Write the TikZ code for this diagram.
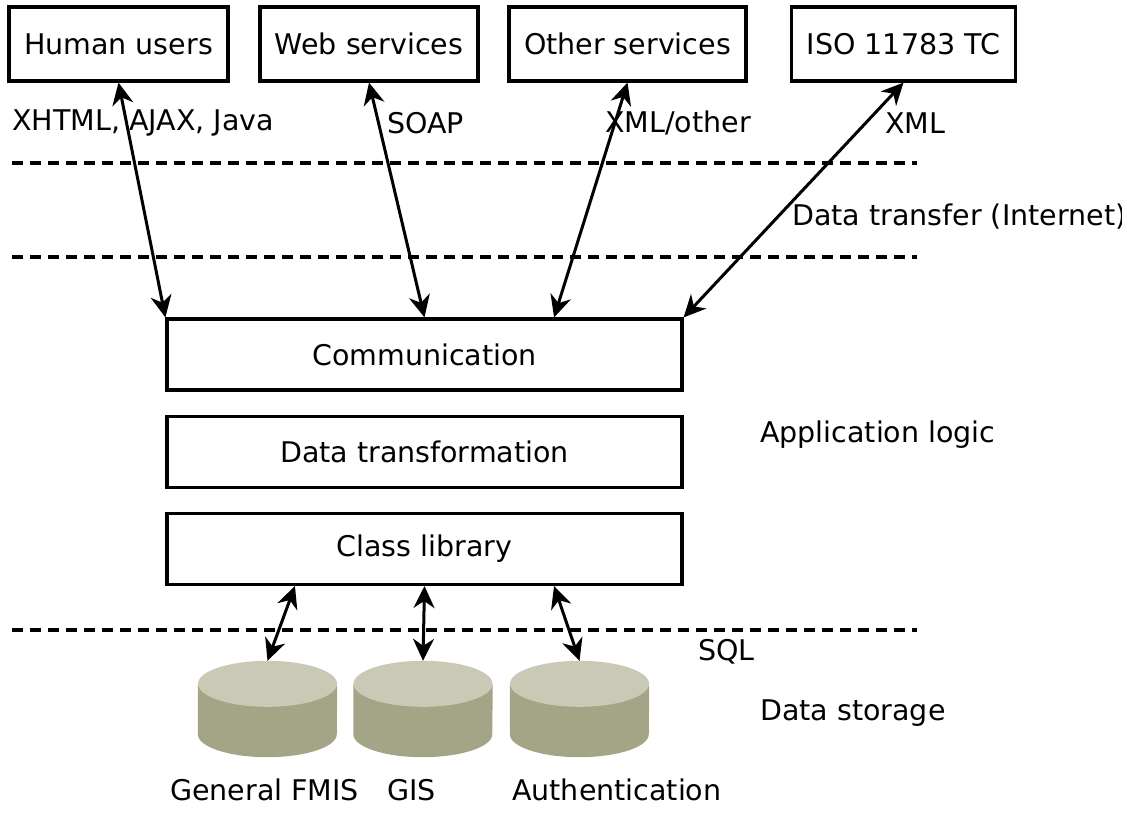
\documentclass[tikz,border=0pt]{standalone}
\usepackage{fontspec}
\setmainfont{DejaVu Sans}
\usetikzlibrary{arrows.meta,positioning,calc}
\definecolor{disktop}{HTML}{C9C9B5}
\definecolor{diskside}{HTML}{A4A487}

\begin{document}
\begin{tikzpicture}[x=1pt,y=1pt,node distance=23pt,>={Stealth[length=22pt,width=21pt,inset=7pt]},
font=\fontsize{28.5}{34}\selectfont,
box/.style={draw,line width=3.2pt,inner xsep=15pt,minimum height=74pt},
layer/.style={draw,line width=3.2pt,minimum width=515pt,minimum height=71pt},
lbl/.style={anchor=west,inner sep=0pt},
disk/.style={inner sep=0pt,minimum width=139pt,minimum height=96pt},
sep/.style={line width=3.2pt,dash pattern=on 11pt off 7pt},
link/.style={<->,line width=3pt}]
\useasboundingbox (0,0) rectangle (1122,-822);
% clients on top
\node[box] (users) at (118.5,-44) {Human users};
\node[box] (web) at (369,-44) {Web services};
\node[box] (other) at (627.5,-44) {Other services};
\node[box] (iso) at (903.5,-44) {ISO 11783 TC};
% protocols
\node[lbl] (xhtml) at (12,-123) {XHTML, AJAX, Java};
\node[lbl] (soap) at (387,-123) {SOAP};
\node[lbl] (xmlo) at (605,-123) {XML/other};
\node[lbl] (xml) at (885,-123) {XML};
% layer separators
\draw[sep] (12,-163) -- (917,-163);
\draw[sep] (12,-257) -- (917,-257);
\draw[sep] (12,-630) -- (917,-630);
\node[lbl] (transfer) at (792,-217) {Data transfer (Internet)};
% application logic
\node[layer] (comm) at (424.5,-354.5) {Communication};
\node[layer,below=of comm] (trans) {Data transformation};
\node[layer,below=of trans] (lib) {Class library};
\node[lbl] (applog) at (760,-435) {Application logic};
% databases
\node[disk] (fmis) at (267.5,-709) {};
\node[disk] (gis) at (423,-709) {};
\node[disk] (auth) at (579.5,-709) {};
\foreach \d in {fmis,gis,auth} {
  \fill[diskside] ([yshift=-23pt]\d.north west) -- ([yshift=23pt]\d.south west)
    arc[start angle=180,end angle=360,x radius=69.5pt,y radius=23pt]
    -- ([yshift=-23pt]\d.north east) -- cycle;
  \fill[disktop] ([yshift=-23pt]\d.north) ellipse[x radius=69.5pt,y radius=23pt];
}
\node[lbl] (sql) at (698,-652) {SQL};
\node[lbl] (storage) at (760,-713) {Data storage};
\node[lbl] (fmislbl) at (170,-790) {General FMIS};
\node[lbl] (gislbl) at (387,-790) {GIS};
\node[lbl] (authlbl) at (512,-790) {Authentication};
% connections
\draw[link] (users.south) -- (comm.north west);
\draw[link] (web.south) -- (comm.north);
\draw[link] (other.south) -- ($(comm.north)!.5!(comm.north east)$);
\draw[link] (iso.south) -- (comm.north east);
\draw[link] ($(lib.south west)!.25!(lib.south east)$) -- (fmis.north);
\draw[link] (lib.south) -- (gis.north);
\draw[link] ($(lib.south)!.5!(lib.south east)$) -- (auth.north);
\end{tikzpicture}
\end{document}
